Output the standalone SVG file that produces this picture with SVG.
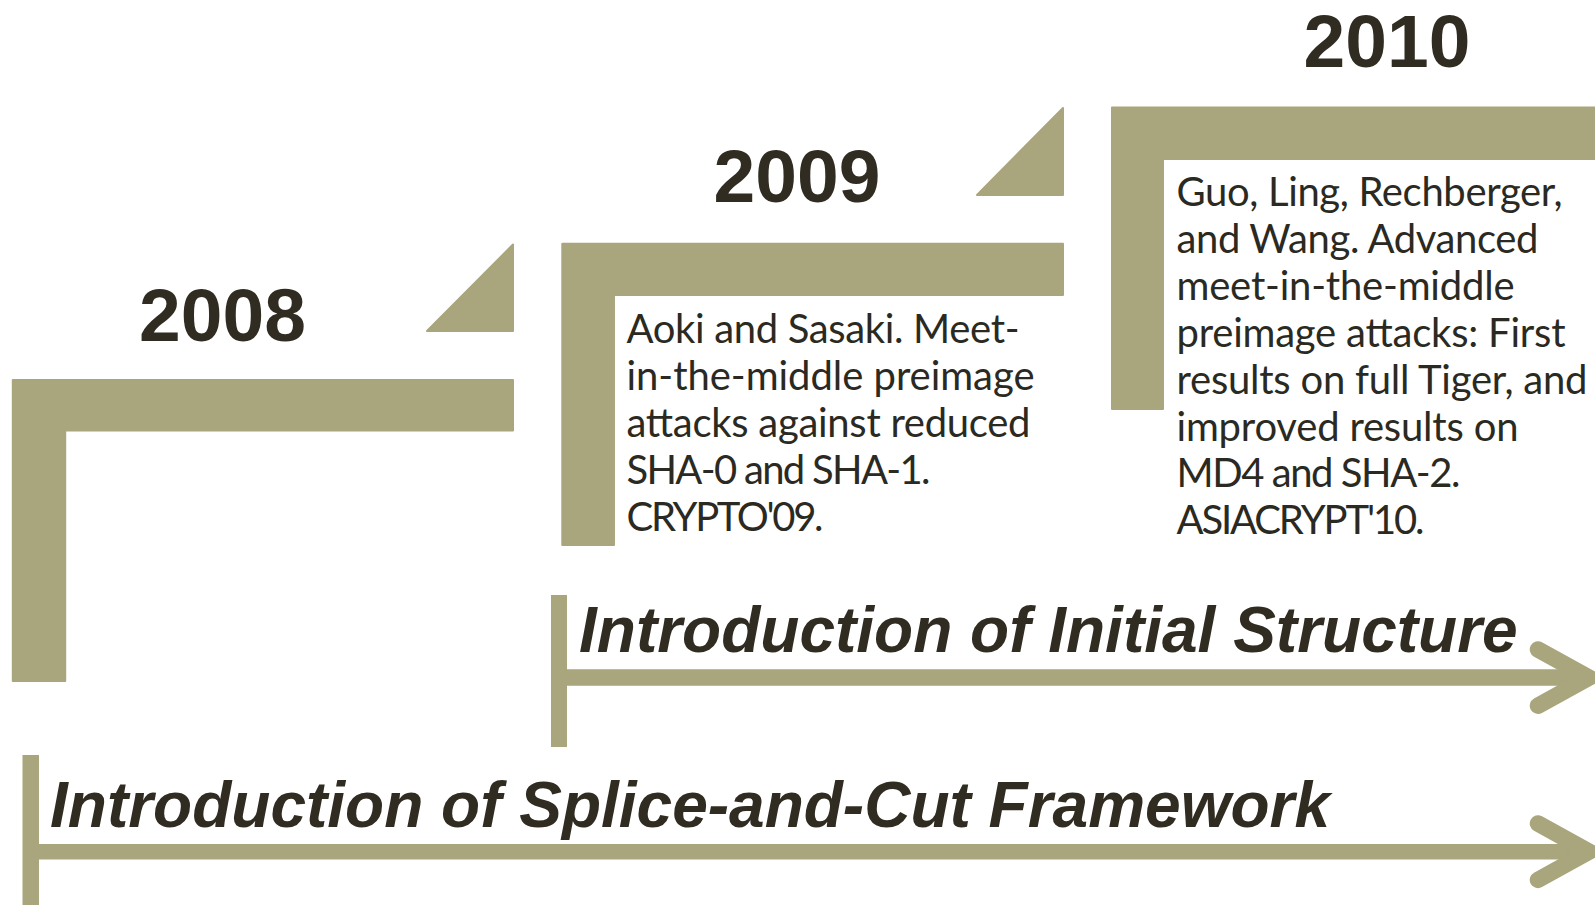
<svg xmlns="http://www.w3.org/2000/svg" width="1595" height="905" viewBox="0 0 1595 905">
  <style>
    .band { fill: #A9A57C; stroke: #A9A57C; stroke-width: 2; stroke-linejoin: round; }
    .year { font-family: "Liberation Sans", Arial, sans-serif; font-weight: bold; font-size: 75px; fill: #302C21; text-anchor: middle; }
    .ref { font-family: Lato, "Open Sans", sans-serif; font-size: 40px; fill: #2B2A22; }
    .phase { font-family: "Liberation Sans", Arial, sans-serif; font-weight: bold; font-style: italic; font-size: 64px; fill: #302C21; }
    .shaft { stroke: #A9A57C; fill: none; }
    .head { stroke: #A9A57C; fill: none; stroke-width: 16.5; stroke-linecap: round; stroke-linejoin: miter; }
    .tick { fill: #A9A57C; }
  </style>

  <!-- 2008 step -->
  <g id="step-2008">
    <path class="band" d="M12.8,380 H513 V430.5 H65.2 V681 H12.8 Z"/>
    <path class="band" d="M513,244.5 V331 H427 Z"/>
    <text class="year" x="222.5" y="341">2008</text>
  </g>

  <!-- 2009 step -->
  <g id="step-2009">
    <path class="band" d="M562.3,243.7 H1063 V295 H614 V545 H562.3 Z"/>
    <path class="band" d="M1063,108 V195 H977 Z"/>
    <text class="year" x="797" y="201.7">2009</text>
    <text class="ref" x="626.5" y="343">
      <tspan x="626.5" y="343" textLength="393">Aoki and Sasaki. Meet-</tspan>
      <tspan x="626.5" y="390" textLength="408">in-the-middle preimage</tspan>
      <tspan x="626.5" y="437" textLength="404">attacks against reduced</tspan>
      <tspan x="626.5" y="484" textLength="304">SHA-0 and SHA-1.</tspan>
      <tspan x="626.5" y="531" textLength="197">CRYPTO'09.</tspan>
    </text>
  </g>

  <!-- 2010 step -->
  <g id="step-2010">
    <path class="band" d="M1112,107.5 H1600 V159 H1163 V409 H1112 Z"/>
    <text class="year" x="1387" y="66.7">2010</text>
    <text class="ref" x="1176.5" y="206">
      <tspan x="1176.5" y="206" textLength="386">Guo, Ling, Rechberger,</tspan>
      <tspan x="1176.5" y="252.9" textLength="362">and Wang. Advanced</tspan>
      <tspan x="1176.5" y="299.8" textLength="338">meet-in-the-middle</tspan>
      <tspan x="1176.5" y="346.7" textLength="389">preimage attacks: First</tspan>
      <tspan x="1176.5" y="393.6" textLength="411">results on full Tiger, and</tspan>
      <tspan x="1176.5" y="440.5" textLength="342">improved results on</tspan>
      <tspan x="1176.5" y="487.4" textLength="284">MD4 and SHA-2.</tspan>
      <tspan x="1176.5" y="534.3" textLength="248">ASIACRYPT'10.</tspan>
    </text>
  </g>

  <!-- timeline arrows -->
  <g id="connectors">
    <g id="arrow-initial-structure">
      <line class="shaft" x1="559" y1="677.6" x2="1589" y2="677.6" stroke-width="16.5"/>
      <polyline class="head" points="1538,649.5 1589,677.6 1538,705.7"/>
      <rect class="tick" x="551" y="595" width="16" height="152"/>
    </g>
    <g id="arrow-splice-and-cut">
      <line class="shaft" x1="30" y1="851.7" x2="1589" y2="851.7" stroke-width="15.5"/>
      <polyline class="head" points="1538,823.5 1589,851.7 1538,879.9"/>
      <rect class="tick" x="22.5" y="755" width="16.5" height="150"/>
    </g>
  </g>

  <!-- phase labels -->
  <g id="label-initial-structure">
    <text class="phase" x="579" y="652.3">Introduction of Initial Structure</text>
  </g>
  <g id="label-splice-and-cut">
    <text class="phase" x="50" y="827.3">Introduction of Splice-and-Cut Framework</text>
  </g>
</svg>
